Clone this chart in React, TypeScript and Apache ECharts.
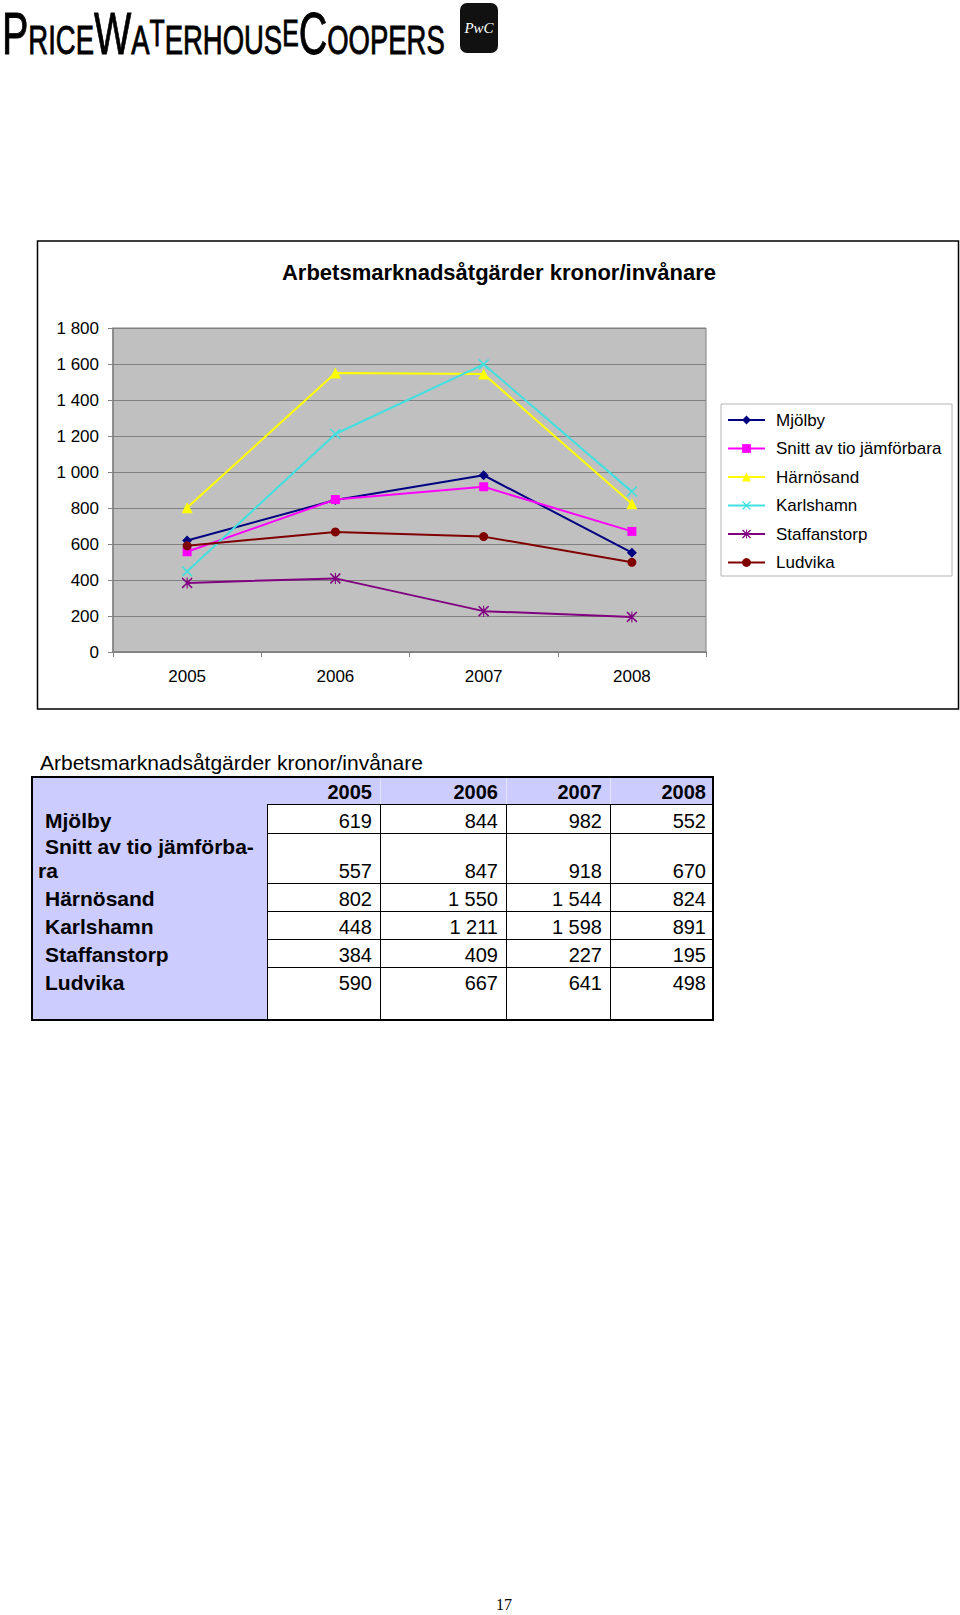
import React, { useEffect, useRef } from "react";
import * as echarts from "echarts";

// ---------- data ----------
const chartTitle = "Arbetsmarknadsåtgärder kronor/invånare";
const years = ["2005", "2006", "2007", "2008"];
const seriesNames = [
  "Mjölby",
  "Snitt av tio jämförbara",
  "Härnösand",
  "Karlshamn",
  "Staffanstorp",
  "Ludvika",
];
const mjolby = [619, 844, 982, 552];
const snitt = [557, 847, 918, 670];
const harnosand = [802, 1550, 1544, 824];
const karlshamn = [448, 1211, 1598, 891];
const staffanstorp = [384, 409, 227, 195];
const ludvika = [590, 667, 641, 498];
const tableRowLabels = [
  ["Mjölby"],
  ["Snitt av tio jämförba-", "ra"],
  ["Härnösand"],
  ["Karlshamn"],
  ["Staffanstorp"],
  ["Ludvika"],
];
const yMin = 0;
const yMax = 1800;
const yInterval = 200;
const pageNumber = "17";
const logoPieces = ["P", "RICE", "W", "A", "T", "ERHOUS", "E", "C", "OOPERS"];
const logoMark = "PwC";

const seriesValues = [mjolby, snitt, harnosand, karlshamn, staffanstorp, ludvika];

// ---------- styles ----------
const FONT = "'Liberation Sans', Arial, sans-serif";
const colors = ["#000080", "#ff00ff", "#ffff00", "#40e0e0", "#800080", "#800000"];
const xSymbol = "path://M2,0L10,8L18,0L20,2L12,10L20,18L18,20L10,12L2,20L0,18L8,10L0,2Z";
const starSymbol =
  "path://M2,0L10,8L18,0L20,2L12,10L20,18L18,20L10,12L2,20L0,18L8,10L0,2Z M9,0L11,0L11,8.5L9,8.5Z M9,11.5L11,11.5L11,20L9,20Z";
const symbols = ["diamond", "rect", "triangle", xSymbol, starSymbol, "circle"];
const symbolSizes = [10, 9, 11, 11, 11, 9];

const fmt = (v: number) => String(v).replace(/\B(?=(\d{3})+(?!\d))/g, " ");

// table layout
const colEdges = [31, 267, 380, 506, 610, 714];
const rowEdges = [776, 804, 833, 883, 911, 939, 967, 1021];
const textBottoms = [804, 833, 883, 911, 939, 967, 995];
const LAVENDER = "#ccccff";

// logo piece styling: [font size, vertical shift]
const logoStyle = [
  [59, 0],
  [41, 0],
  [59, 0],
  [41, 0],
  [37, -8],
  [41, 8],
  [37, -8],
  [59, 8],
  [41, 0],
];

function Chart() {
  const ref = useRef<HTMLDivElement>(null);
  useEffect(() => {
    const chart = echarts.init(ref.current!, undefined, { renderer: "svg" });
    const option: any = {
      animation: false,
      graphic: [
        {
          type: "rect",
          z: 0,
          shape: { x: 1.5, y: 2, width: 921, height: 468 },
          style: { fill: "none", stroke: "#000", lineWidth: 1.5 },
        },
        {
          type: "text",
          x: 463,
          y: 33,
          style: {
            text: chartTitle,
            font: `bold 22px ${FONT}`,
            fill: "#000",
            textAlign: "center",
            textVerticalAlign: "middle",
          },
        },
        {
          type: "rect",
          z: 0,
          shape: { x: 685, y: 165, width: 231, height: 172 },
          style: { fill: "#fff", stroke: "#b4b4b4", lineWidth: 1 },
        },
      ],
      grid: {
        left: 77,
        top: 89,
        width: 593,
        height: 324,
        show: true,
        backgroundColor: "#c0c0c0",
        borderColor: "#808080",
        borderWidth: 1,
      },
      legend: {
        z: 5,
        orient: "vertical",
        left: 691,
        top: 171,
        padding: 0,
        itemWidth: 37,
        itemHeight: 11,
        itemGap: 8.5,
        selectedMode: false,
        data: seriesNames,
        textStyle: {
          fontFamily: FONT,
          fontSize: 17,
          color: "#000",
          lineHeight: 20,
          padding: [0, 0, 0, 6],
        },
      },
      xAxis: {
        type: "category",
        data: years,
        boundaryGap: true,
        axisLine: { lineStyle: { color: "#808080", width: 1.5 } },
        axisTick: { show: true, length: 5, lineStyle: { color: "#808080" } },
        axisLabel: { fontFamily: FONT, fontSize: 17, color: "#000", margin: 16 },
      },
      yAxis: {
        type: "value",
        min: yMin,
        max: yMax,
        interval: yInterval,
        axisLine: { show: true, lineStyle: { color: "#808080", width: 1.5 } },
        axisTick: { show: true, length: 5, lineStyle: { color: "#808080" } },
        axisLabel: {
          fontFamily: FONT,
          fontSize: 17,
          color: "#000",
          margin: 14,
          formatter: (v: number) => fmt(v),
        },
        splitLine: { show: true, lineStyle: { color: "#808080", width: 1 } },
      },
      series: seriesNames.map((name, i) => ({
        name,
        type: "line",
        data: seriesValues[i],
        symbol: symbols[i],
        symbolSize: symbolSizes[i],
        showAllSymbol: true,
        lineStyle: { color: colors[i], width: 2 },
        itemStyle: { color: colors[i] },
        emphasis: { disabled: true },
      })),
    };
    chart.setOption(option);
    return () => chart.dispose();
  }, []);
  return (
    <div
      ref={ref}
      style={{ position: "absolute", left: 36, top: 239, width: 924, height: 472 }}
    />
  );
}

function Logo() {
  return (
    <>
      <svg
        width={456}
        height={70}
        style={{ position: "absolute", left: 0, top: 0 }}
      >
        <g transform="translate(2,0) scale(0.67,1)">
          <text
            x={0}
            y={54}
            fontFamily={FONT}
            fill="#000"
            stroke="#000"
            strokeWidth={0.9}
          >
            {logoPieces.map((p, i) => (
              <tspan key={i} fontSize={logoStyle[i][0]} dy={logoStyle[i][1]}>
                {p}
              </tspan>
            ))}
          </text>
        </g>
      </svg>
      <div
        style={{
          position: "absolute",
          left: 460,
          top: 3,
          width: 38,
          height: 50,
          background: "#111",
          borderRadius: 7,
          color: "#fff",
          fontFamily: "'Liberation Serif', serif",
          fontStyle: "italic",
          fontSize: 15,
          lineHeight: "50px",
          textAlign: "center",
        }}
      >
        {logoMark}
      </div>
    </>
  );
}

function Table() {
  const cells: any[] = [];
  seriesValues.forEach((row, r) =>
    row.forEach((_, c) => {
      cells.push(
        <div
          key={`cell-${r}-${c}`}
          style={{
            position: "absolute",
            left: colEdges[c + 1],
            top: rowEdges[r + 1],
            width: colEdges[c + 2] - colEdges[c + 1],
            height: rowEdges[r + 2] - rowEdges[r + 1],
            background: "#fff",
            borderLeft: "1.5px solid #000",
            borderTop: "1.5px solid #000",
            boxSizing: "border-box",
          }}
        />
      );
    })
  );
  for (let c = 2; c < colEdges.length - 1; c++) {
    cells.push(
      <div
        key={`hsep-${c}`}
        style={{
          position: "absolute",
          left: colEdges[c],
          top: rowEdges[0],
          width: 1,
          height: rowEdges[1] - rowEdges[0],
          background: "#e4e4ff",
        }}
      />
    );
  }
  const textStyle = (bold: boolean, size: number): React.CSSProperties => ({
    position: "absolute",
    fontFamily: FONT,
    fontWeight: bold ? "bold" : "normal",
    fontSize: size,
    lineHeight: "24px",
    whiteSpace: "nowrap",
    color: "#000",
  });
  years.forEach((y, c) => {
    cells.push(
      <div
        key={`hy-${c}`}
        style={{
          ...textStyle(true, 20),
          left: colEdges[c + 1],
          width: colEdges[c + 2] - colEdges[c + 1] - 8,
          top: textBottoms[0] - 24,
          textAlign: "right",
        }}
      >
        {y}
      </div>
    );
  });
  tableRowLabels.forEach((lines, r) => {
    lines.forEach((line, li) => {
      cells.push(
        <div
          key={`lab-${r}-${li}`}
          style={{
            ...textStyle(true, 21),
            left: li === 0 ? 45 : 38,
            top: textBottoms[r + 1] - 24 * (lines.length - li),
          }}
        >
          {line}
        </div>
      );
    });
  });
  seriesValues.forEach((row, r) =>
    row.forEach((v, c) => {
      cells.push(
        <div
          key={`val-${r}-${c}`}
          style={{
            ...textStyle(false, 20),
            left: colEdges[c + 1],
            width: colEdges[c + 2] - colEdges[c + 1] - 8,
            top: textBottoms[r + 1] - 24,
            textAlign: "right",
          }}
        >
          {fmt(v)}
        </div>
      );
    })
  );
  return (
    <>
      <div
        style={{
          position: "absolute",
          left: 40,
          top: 751,
          fontFamily: FONT,
          fontSize: 21,
          lineHeight: "24px",
          whiteSpace: "nowrap",
          color: "#000",
        }}
      >
        {chartTitle}
      </div>
      <div
        style={{
          position: "absolute",
          left: colEdges[0],
          top: rowEdges[0],
          width: colEdges[colEdges.length - 1] - colEdges[0],
          height: rowEdges[rowEdges.length - 1] - rowEdges[0],
          background: LAVENDER,
        }}
      />
      {cells}
      <div
        style={{
          position: "absolute",
          left: colEdges[0],
          top: rowEdges[0],
          width: colEdges[colEdges.length - 1] - colEdges[0],
          height: rowEdges[rowEdges.length - 1] - rowEdges[0],
          border: "2px solid #000",
          boxSizing: "border-box",
        }}
      />
    </>
  );
}

export default function App() {
  return (
    <div
      style={{
        position: "absolute",
        left: 0,
        top: 0,
        width: 960,
        height: 1615,
        background: "#fff",
        overflow: "hidden",
      }}
    >
      <Logo />
      <Chart />
      <Table />
      <div
        style={{
          position: "absolute",
          left: 0,
          width: 1008,
          top: 1595,
          textAlign: "center",
          fontFamily: "'Liberation Serif', serif",
          fontSize: 16,
          lineHeight: "20px",
          color: "#000",
        }}
      >
        {pageNumber}
      </div>
    </div>
  );
}
